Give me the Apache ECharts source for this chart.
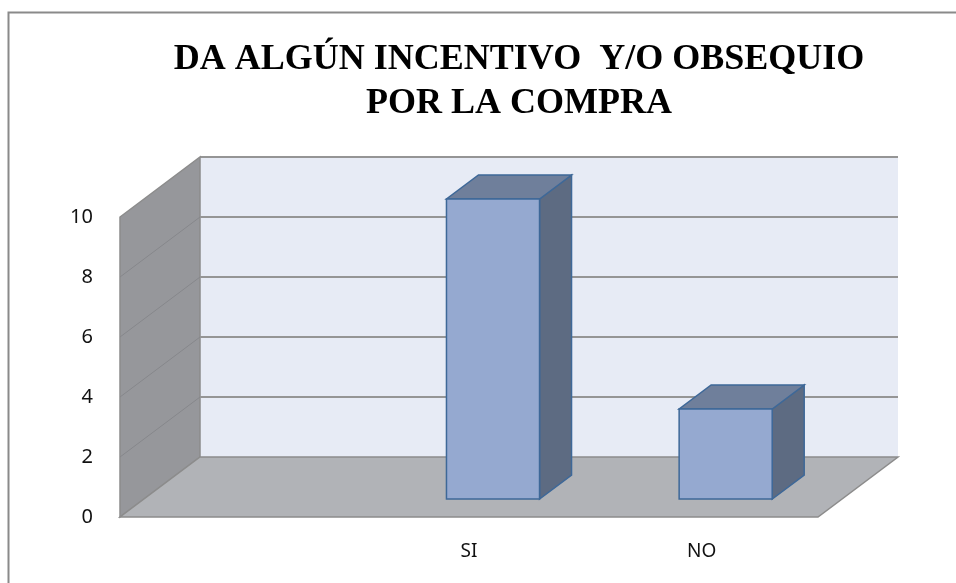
<!DOCTYPE html>
<html>
<head>
<meta charset="utf-8">
<script src="https://cdn.jsdelivr.net/npm/echarts@6/dist/echarts.min.js"></script>
<style>
html,body{margin:0;padding:0;background:#fff;}
#chart{width:956px;height:583px;}
</style>
</head>
<body>
<div id="chart"></div>
<script>
// datos del grafico
var titulo = 'DA ALGÚN INCENTIVO  Y/O OBSEQUIO\nPOR LA COMPRA';
var categorias = ['', 'SI', 'NO'];
var valores = [null, 10, 3];
var ejeMin = 0, ejeMax = 10, ejeIntervalo = 2;

// profundidad de la perspectiva 3D (px)
var PROF_X = 80, PROF_Y = -60;

var chart = echarts.init(document.getElementById('chart'));

// paredes, suelo y lineas de division
function renderParedes(params, api) {
    var cs = params.coordSys;
    var x0 = cs.x, x1 = cs.x + cs.width;
    var yTop = api.coord([0, ejeMax])[1];
    var yBot = api.coord([0, ejeMin])[1];
    var hijos = [];
    // pared del fondo (sin borde derecho)
    hijos.push({
        type: 'rect',
        shape: { x: x0 + PROF_X, y: yTop + PROF_Y, width: x1 - x0, height: yBot - yTop },
        style: { fill: '#E7EBF5' }
    });
    hijos.push({
        type: 'line',
        shape: { x1: x0 + PROF_X, y1: yTop + PROF_Y, x2: x1 + PROF_X, y2: yTop + PROF_Y },
        style: { stroke: '#959595', lineWidth: 2 }
    });
    // pared lateral
    hijos.push({
        type: 'polygon',
        shape: { points: [[x0, yBot], [x0, yTop], [x0 + PROF_X, yTop + PROF_Y], [x0 + PROF_X, yBot + PROF_Y]] },
        style: { fill: '#96979B', stroke: '#8C8C8C', lineWidth: 1.5 }
    });
    // lineas de division
    for (var v = ejeMin + ejeIntervalo; v < ejeMax; v += ejeIntervalo) {
        var y = api.coord([0, v])[1];
        hijos.push({
            type: 'line',
            shape: { x1: x0 + PROF_X, y1: y + PROF_Y, x2: x1 + PROF_X, y2: y + PROF_Y },
            style: { stroke: '#959595', lineWidth: 2 }
        });
        hijos.push({
            type: 'line',
            shape: { x1: x0, y1: y, x2: x0 + PROF_X, y2: y + PROF_Y },
            style: { stroke: '#86878B', lineWidth: 1 }
        });
    }
    // suelo
    hijos.push({
        type: 'polygon',
        shape: { points: [[x0, yBot], [x1, yBot], [x1 + PROF_X, yBot + PROF_Y], [x0 + PROF_X, yBot + PROF_Y]] },
        style: { fill: '#B1B3B7', stroke: '#8C8C8C', lineWidth: 1.5 }
    });
    return { type: 'group', children: hijos };
}

// barras 3D
function renderBarra(params, api) {
    var val = api.value(1);
    if (val == null || isNaN(val)) return;
    var idx = api.value(0);
    var arriba = api.coord([idx, val]);
    var abajo = api.coord([idx, 0]);
    var banda = api.size([1, 0])[0];
    var w = banda * 0.4;
    var fx = PROF_X * 0.3, fy = PROF_Y * 0.3;
    var dx = PROF_X * 0.4, dy = PROF_Y * 0.4;
    var L = arriba[0] - w / 2 + fx, R = L + w;
    var T = arriba[1] + fy, B = abajo[1] + fy;
    var borde = '#3E6898';
    return {
        type: 'group',
        children: [
            {
                type: 'polygon',
                shape: { points: [[R, T], [R + dx, T + dy], [R + dx, B + dy], [R, B]] },
                style: { fill: '#5D6B82', stroke: borde, lineWidth: 1.5 }
            },
            {
                type: 'polygon',
                shape: { points: [[L, T], [R, T], [R + dx, T + dy], [L + dx, T + dy]] },
                style: { fill: '#6F7F9B', stroke: borde, lineWidth: 1.5 }
            },
            {
                type: 'rect',
                shape: { x: L, y: T, width: w, height: B - T },
                style: { fill: '#95A9D0', stroke: borde, lineWidth: 1.5 }
            }
        ]
    };
}

var datosBarras = categorias.map(function (c, i) { return [i, valores[i]]; });

var option = {
    animation: false,
    backgroundColor: '#fff',
    title: {
        text: titulo,
        left: 514,
        top: 33,
        textAlign: 'center',
        textStyle: {
            fontFamily: 'Liberation Serif',
            fontWeight: 'bold',
            fontSize: 36,
            lineHeight: 44,
            color: '#000'
        }
    },
    graphic: [{
        type: 'rect',
        left: 6, top: 10, z: -1,
        shape: { width: 1000, height: 700 },
        style: { fill: 'none', stroke: '#8A8A8A', lineWidth: 2 }
    }],
    grid: { left: 120, right: 138, top: 217, bottom: 66 },
    xAxis: {
        type: 'category',
        data: categorias,
        axisLine: { show: false },
        axisTick: { show: false },
        axisLabel: { margin: 25, fontSize: 19, color: '#111', fontFamily: 'Noto Sans' }
    },
    yAxis: {
        type: 'value',
        min: ejeMin, max: ejeMax, interval: ejeIntervalo,
        axisLine: { show: false },
        axisTick: { show: false },
        splitLine: { show: false },
        axisLabel: { margin: 27, fontSize: 20, color: '#111', fontFamily: 'Noto Sans' }
    },
    series: [
        {
            type: 'custom',
            renderItem: renderParedes,
            data: [[0, 0]],
            z: 1,
            silent: true
        },
        {
            type: 'custom',
            renderItem: renderBarra,
            data: datosBarras,
            encode: { x: 0, y: 1 },
            z: 2
        }
    ]
};

chart.setOption(option);
</script>
</body>
</html>
